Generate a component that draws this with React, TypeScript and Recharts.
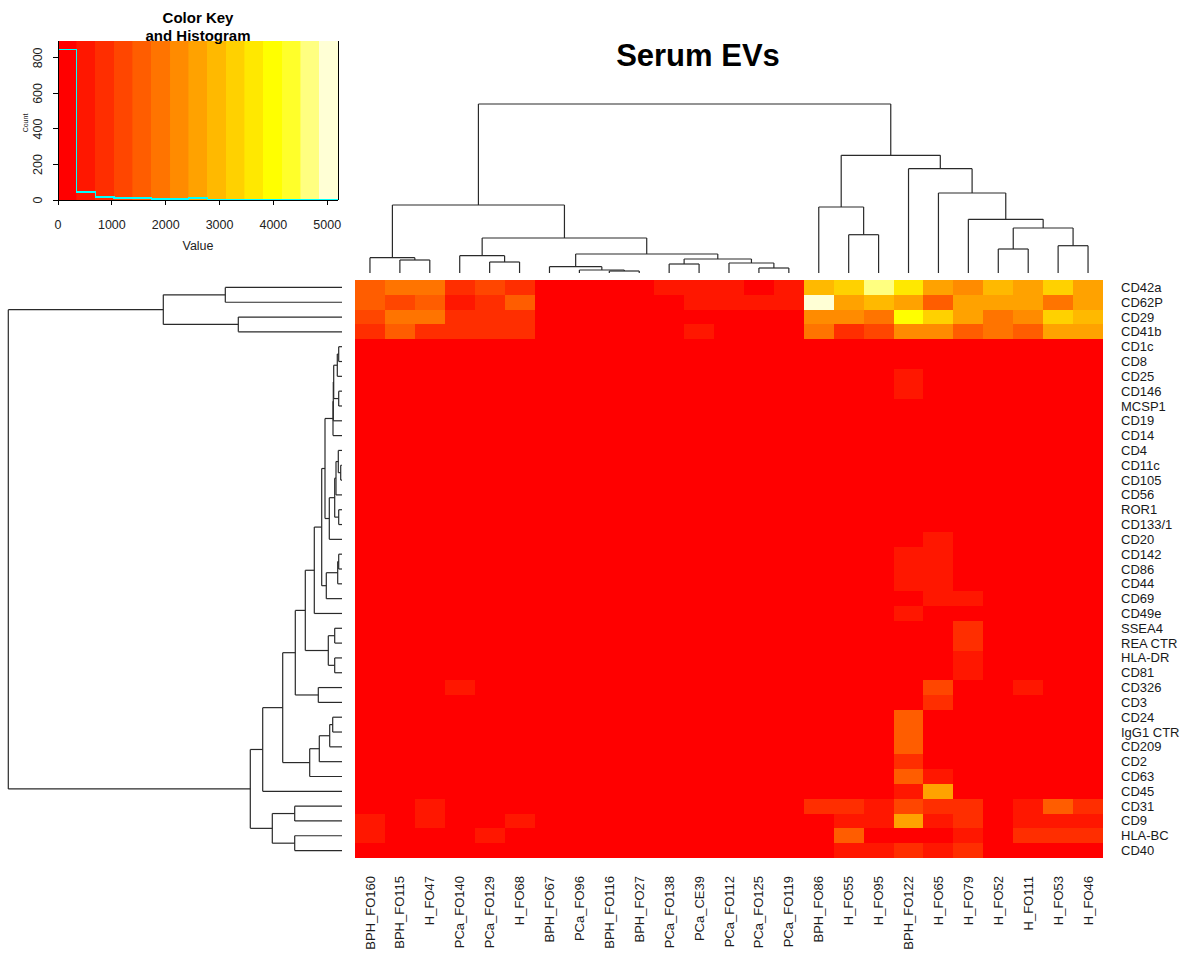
import React from 'react';
import {
  BarChart,
  Bar,
  Cell,
  XAxis,
  YAxis,
  ComposedChart,
  Line,
  ReferenceArea,
  ReferenceLine,
} from 'recharts';

const FONT = '"Liberation Sans", Arial, Helvetica, sans-serif';
const LINE = '#2a2a2a';

const columnLabels = [
  'BPH_FO160', 'BPH_FO115', 'H_FO47', 'PCa_FO140', 'PCa_FO129', 'H_FO68', 'BPH_FO67', 'PCa_FO96',
  'BPH_FO116', 'BPH_FO27', 'PCa_FO138', 'PCa_CE39', 'PCa_FO112', 'PCa_FO125', 'PCa_FO119', 'BPH_FO86',
  'H_FO55', 'H_FO95', 'BPH_FO122', 'H_FO65', 'H_FO79', 'H_FO52', 'H_FO111', 'H_FO53', 'H_FO46',
];

const rowLabels = [
  'CD42a', 'CD62P', 'CD29', 'CD41b', 'CD1c', 'CD8', 'CD25', 'CD146', 'MCSP1', 'CD19', 'CD14', 'CD4',
  'CD11c', 'CD105', 'CD56', 'ROR1', 'CD133/1', 'CD20', 'CD142', 'CD86', 'CD44', 'CD69', 'CD49e',
  'SSEA4', 'REA CTR', 'HLA-DR', 'CD81', 'CD326', 'CD3', 'CD24', 'IgG1 CTR', 'CD209', 'CD2', 'CD63',
  'CD45', 'CD31', 'CD9', 'HLA-BC', 'CD40',
];

// heat.colors(15)
const heatColors = [
  '#FF0000', '#FF1700', '#FF2E00', '#FF4600', '#FF5D00', '#FF7400', '#FF8B00', '#FFA200',
  '#FFB900', '#FFD100', '#FFE800', '#FFFF00', '#FFFF2A', '#FFFF80', '#FFFFD5',
];

const keyBreaks = [0, 347, 693, 1040, 1387, 1733, 2080, 2427, 2773, 3120, 3467, 3813, 4160, 4507, 4853, 5200];
const histCounts = [846, 46, 17, 12, 12, 5, 5, 12, 2, 3, 1, 1, 1, 1, 1];
const keyTicksX = [0, 1000, 2000, 3000, 4000, 5000];
const keyTicksY = [0, 200, 400, 600, 800];

// values per marker (row), one entry per sample (column)
const cellValues: number[][] = [
  /* CD42a */ [1560, 1910, 1900, 870, 1210, 880, 110, 100, 100, 100, 520, 510, 500, 130, 520, 2950, 3300, 4680, 3640, 2600, 2250, 2950, 2600, 3300, 2600],
  /* CD62P */ [1560, 1210, 1560, 520, 870, 1560, 120, 100, 100, 100, 120, 520, 520, 520, 520, 5030, 2600, 2950, 2600, 1560, 2600, 2600, 2600, 1910, 2600],
  /* CD29 */ [1210, 1910, 1910, 870, 870, 870, 100, 100, 100, 100, 100, 100, 100, 100, 100, 2250, 2250, 1910, 3990, 3300, 2600, 1910, 2250, 3300, 2950],
  /* CD41b */ [870, 1560, 870, 870, 870, 870, 100, 100, 100, 100, 100, 520, 100, 100, 100, 1910, 870, 1210, 2250, 2250, 1560, 1910, 1560, 2600, 2600],
  /* CD1c */ [100, 100, 100, 100, 100, 100, 100, 100, 100, 100, 100, 100, 100, 100, 100, 100, 100, 100, 100, 100, 100, 100, 100, 100, 100],
  /* CD8 */ [100, 100, 100, 100, 100, 100, 100, 100, 100, 100, 100, 100, 100, 100, 100, 100, 100, 100, 100, 100, 100, 100, 100, 100, 100],
  /* CD25 */ [100, 100, 100, 100, 100, 100, 100, 100, 100, 100, 100, 100, 100, 100, 100, 100, 100, 100, 520, 100, 100, 100, 100, 100, 100],
  /* CD146 */ [100, 100, 100, 100, 100, 100, 100, 100, 100, 100, 100, 100, 100, 100, 100, 100, 100, 100, 520, 100, 100, 100, 100, 100, 100],
  /* MCSP1 */ [100, 100, 100, 100, 100, 100, 100, 100, 100, 100, 100, 100, 100, 100, 100, 100, 100, 100, 100, 100, 100, 100, 100, 100, 100],
  /* CD19 */ [100, 100, 100, 100, 100, 100, 100, 100, 100, 100, 100, 100, 100, 100, 100, 100, 100, 100, 100, 100, 100, 100, 100, 100, 100],
  /* CD14 */ [100, 100, 100, 100, 100, 100, 100, 100, 100, 100, 100, 100, 100, 100, 100, 100, 100, 100, 100, 100, 100, 100, 100, 100, 100],
  /* CD4 */ [100, 100, 100, 100, 100, 100, 100, 100, 100, 100, 100, 100, 100, 100, 100, 100, 100, 100, 100, 100, 100, 100, 100, 100, 100],
  /* CD11c */ [100, 100, 100, 100, 100, 100, 100, 100, 100, 100, 100, 100, 100, 100, 100, 100, 100, 100, 100, 100, 100, 100, 100, 100, 100],
  /* CD105 */ [100, 100, 100, 100, 100, 100, 100, 100, 100, 100, 100, 100, 100, 100, 100, 100, 100, 100, 100, 100, 100, 100, 100, 100, 100],
  /* CD56 */ [100, 100, 100, 100, 100, 100, 100, 100, 100, 100, 100, 100, 100, 100, 100, 100, 100, 100, 100, 100, 100, 100, 100, 100, 100],
  /* ROR1 */ [100, 100, 100, 100, 100, 100, 100, 100, 100, 100, 100, 100, 100, 100, 100, 100, 100, 100, 100, 100, 100, 100, 100, 100, 100],
  /* CD133/1 */ [100, 100, 100, 100, 100, 100, 100, 100, 100, 100, 100, 100, 100, 100, 100, 100, 100, 100, 100, 100, 100, 100, 100, 100, 100],
  /* CD20 */ [100, 100, 100, 100, 100, 100, 100, 100, 100, 100, 100, 100, 100, 100, 100, 100, 100, 100, 100, 520, 100, 100, 100, 100, 100],
  /* CD142 */ [100, 100, 100, 100, 100, 100, 100, 100, 100, 100, 100, 100, 100, 100, 100, 100, 100, 100, 520, 520, 100, 100, 100, 100, 100],
  /* CD86 */ [100, 100, 100, 100, 100, 100, 100, 100, 100, 100, 100, 100, 100, 100, 100, 100, 100, 100, 520, 520, 100, 100, 100, 100, 100],
  /* CD44 */ [100, 100, 100, 100, 100, 100, 100, 100, 100, 100, 100, 100, 100, 100, 100, 100, 100, 100, 520, 520, 100, 100, 100, 100, 100],
  /* CD69 */ [100, 100, 100, 100, 100, 100, 100, 100, 100, 100, 100, 100, 100, 100, 100, 100, 100, 100, 100, 520, 520, 100, 100, 100, 100],
  /* CD49e */ [100, 100, 100, 100, 100, 100, 100, 100, 100, 100, 100, 100, 100, 100, 100, 100, 100, 100, 520, 100, 100, 100, 100, 100, 100],
  /* SSEA4 */ [100, 100, 100, 100, 100, 100, 100, 100, 100, 100, 100, 100, 100, 100, 100, 100, 100, 100, 100, 100, 870, 100, 100, 100, 100],
  /* REA CTR */ [100, 100, 100, 100, 100, 100, 100, 100, 100, 100, 100, 100, 100, 100, 100, 100, 100, 100, 100, 100, 870, 100, 100, 100, 100],
  /* HLA-DR */ [100, 100, 100, 100, 100, 100, 100, 100, 100, 100, 100, 100, 100, 100, 100, 100, 100, 100, 100, 100, 520, 100, 100, 100, 100],
  /* CD81 */ [100, 100, 100, 100, 100, 100, 100, 100, 100, 100, 100, 100, 100, 100, 100, 100, 100, 100, 100, 100, 520, 100, 100, 100, 100],
  /* CD326 */ [100, 100, 100, 520, 100, 100, 100, 100, 100, 100, 100, 100, 100, 100, 100, 100, 100, 100, 100, 1210, 100, 100, 520, 100, 100],
  /* CD3 */ [100, 100, 100, 100, 100, 100, 100, 100, 100, 100, 100, 100, 100, 100, 100, 100, 100, 100, 100, 870, 100, 100, 100, 100, 100],
  /* CD24 */ [100, 100, 100, 100, 100, 100, 100, 100, 100, 100, 100, 100, 100, 100, 100, 100, 100, 100, 1560, 100, 100, 100, 100, 100, 100],
  /* IgG1 CTR */ [100, 100, 100, 100, 100, 100, 100, 100, 100, 100, 100, 100, 100, 100, 100, 100, 100, 100, 1560, 100, 100, 100, 100, 100, 100],
  /* CD209 */ [100, 100, 100, 100, 100, 100, 100, 100, 100, 100, 100, 100, 100, 100, 100, 100, 100, 100, 1560, 100, 100, 100, 100, 100, 100],
  /* CD2 */ [100, 100, 100, 100, 100, 100, 100, 100, 100, 100, 100, 100, 100, 100, 100, 100, 100, 100, 870, 100, 100, 100, 100, 100, 100],
  /* CD63 */ [100, 100, 100, 100, 100, 100, 100, 100, 100, 100, 100, 100, 100, 100, 100, 100, 100, 100, 1560, 520, 100, 100, 100, 100, 100],
  /* CD45 */ [100, 100, 100, 100, 100, 100, 100, 100, 100, 100, 100, 100, 100, 100, 100, 100, 100, 100, 520, 2600, 100, 100, 100, 100, 100],
  /* CD31 */ [100, 100, 520, 100, 100, 100, 100, 100, 100, 100, 100, 100, 100, 100, 100, 870, 870, 520, 1210, 870, 870, 100, 520, 1560, 870],
  /* CD9 */ [520, 100, 520, 100, 100, 520, 100, 100, 100, 100, 100, 100, 100, 100, 100, 100, 520, 520, 2600, 520, 870, 100, 520, 520, 520],
  /* HLA-BC */ [520, 100, 100, 100, 520, 100, 100, 100, 100, 100, 100, 100, 100, 100, 100, 100, 1560, 100, 100, 100, 520, 100, 870, 870, 870],
  /* CD40 */ [100, 100, 100, 100, 100, 100, 100, 100, 100, 100, 100, 100, 100, 100, 100, 100, 520, 520, 870, 520, 870, 100, 100, 100, 100],
];

// hclust-style merge tables: negative = leaf (1-based, in display order), positive = earlier merge
const colMerges: [number, number, number][] = [
  [-2, -3, 13], [-1, 1, 15.3], [-5, -6, 11], [-4, 3, 17.3], [-9, -10, 2], [-8, 5, 3],
  [-7, 6, 6.3], [-11, -12, 9], [-14, -15, 5], [-13, 9, 10], [8, 10, 14], [7, 11, 19],
  [4, 12, 35], [2, 13, 68], [-17, -18, 38.3], [-16, 15, 66], [-22, -23, 24], [-24, -25, 27.3],
  [17, 18, 45], [-21, 19, 53.7], [-20, 20, 80], [-19, 21, 104.3], [16, 22, 117.7], [14, 23, 169],
];

const rowMerges: [number, number, number][] = [
  [-1, -2, 116.7], [-3, -4, 103.7], [1, 2, 178.7], [-5, -6, 3.3], [4, -7, 4.7], [-8, -9, 3.3],
  [5, 6, 8.3], [7, -10, 8.7], [8, -11, 9.0], [-13, -14, 1.3], [-12, 10, 3.7], [11, -15, 6],
  [-16, -17, 3.3], [12, 13, 7.3], [14, -18, 12.7], [9, 15, 17], [-19, -20, 3.3], [17, -21, 4.3],
  [18, -22, 15.7], [16, 19, 20.3], [20, -23, 27.7], [-24, -25, 7.3], [-26, -27, 7.3], [22, 23, 13.7],
  [21, 24, 36.7], [-28, -29, 23.7], [25, 26, 46.7], [-30, -31, 9.3], [28, -32, 12.3], [29, -33, 22.7],
  [30, -34, 32.3], [27, 31, 59.3], [32, -35, 79.3], [-36, -37, 47.3], [-38, -39, 47.3], [34, 35, 69.7],
  [33, 36, 91.7], [3, 37, 333.7],
];

type Seg = { p1: number; h1: number; p2: number; h2: number };

function dendroSegments(merges: [number, number, number][]): Seg[] {
  const pos: number[] = [];
  const hgt: number[] = [];
  const segs: Seg[] = [];
  const info = (k: number) => (k < 0 ? { p: -k - 1 + 0.5, h: 0 } : { p: pos[k - 1], h: hgt[k - 1] });
  merges.forEach(([a, b, h], idx) => {
    const A = info(a);
    const B = info(b);
    segs.push({ p1: A.p, h1: A.h, p2: A.p, h2: h });
    segs.push({ p1: B.p, h1: B.h, p2: B.p, h2: h });
    segs.push({ p1: A.p, h1: h, p2: B.p, h2: h });
    pos[idx] = (A.p + B.p) / 2;
    hgt[idx] = h;
  });
  return segs;
}

function colorFor(v: number): string {
  for (let i = 0; i < heatColors.length; i++) {
    if (v < keyBreaks[i + 1]) return heatColors[i];
  }
  return heatColors[heatColors.length - 1];
}

const nRows = rowLabels.length;
const nCols = columnLabels.length;

const heatTable = columnLabels.map((name) => {
  const o: Record<string, number | string> = { name };
  rowLabels.forEach((_, r) => {
    o[`r${r}`] = 1;
  });
  return o;
});

const rowTicks = rowLabels.map((_, i) => nRows - i - 0.5);
const histData = keyBreaks.map((b, i) => ({ v: b, count: histCounts[Math.min(i, histCounts.length - 1)] }));
const colLeafData = columnLabels.map((_, c) => ({ x: c + 0.5, y: 0 }));
const rowLeafData = rowLabels.map((_, r) => ({ x: 0, y: r + 0.5 }));

const colSegs = dendroSegments(colMerges);
const rowSegs = dendroSegments(rowMerges);

const ColTick = (props: any) => {
  const { x, y, payload } = props;
  return (
    <text
      x={x}
      y={y}
      transform={`rotate(-90 ${x} ${y})`}
      textAnchor="end"
      dy="0.35em"
      fontSize={13}
      fontFamily={FONT}
      fill="#1a1a1a"
    >
      {payload.value}
    </text>
  );
};

const RowTick = (props: any) => {
  const { x, y, payload } = props;
  const idx = Math.round(nRows - 0.5 - payload.value);
  return (
    <text x={x} y={y} textAnchor="start" dy="0.35em" fontSize={13} fontFamily={FONT} fill="#1a1a1a">
      {rowLabels[idx]}
    </text>
  );
};

const KeyYTick = (props: any) => {
  const { x, y, payload } = props;
  return (
    <text
      x={x}
      y={y}
      transform={`rotate(-90 ${x} ${y})`}
      textAnchor="middle"
      fontSize={12.5}
      fontFamily={FONT}
      fill="#222"
    >
      {payload.value}
    </text>
  );
};

const KeyXTick = (props: any) => {
  const { x, y, payload } = props;
  return (
    <text x={x} y={y} textAnchor="middle" dy="0.71em" fontSize={12.5} fontFamily={FONT} fill="#222">
      {payload.value}
    </text>
  );
};

export default function App() {
  return (
    <div
      style={{
        position: 'absolute',
        left: 0,
        top: 0,
        width: 1182,
        height: 956,
        background: '#fff',
        overflow: 'hidden',
        fontFamily: FONT,
      }}
    >
      {/* Color key and histogram */}
      <div style={{ position: 'absolute', left: 0, top: 0, shapeRendering: 'crispEdges' }}>
        <ComposedChart width={345} height={260} data={histData} margin={{ top: 41, right: 7, bottom: 0, left: 0 }}>
          <XAxis
            type="number"
            dataKey="v"
            domain={[0, 5200]}
            allowDataOverflow
            ticks={keyTicksX}
            interval={0}
            height={60}
            tickSize={5}
            tickMargin={15}
            stroke="#000"
            tick={KeyXTick}
          />
          <YAxis
            type="number"
            domain={[0, 895]}
            allowDataOverflow
            ticks={keyTicksY}
            interval={0}
            width={58}
            tickSize={5}
            tickMargin={11}
            stroke="#000"
            tick={KeyYTick}
          />
          {heatColors.map((c, i) => (
            <ReferenceArea
              key={`band${i}`}
              x1={keyBreaks[i]}
              x2={keyBreaks[i + 1]}
              y1={0}
              y2={895}
              fill={c}
              fillOpacity={1}
              stroke={c}
              strokeWidth={0.6}
            />
          ))}
          <ReferenceLine x={5200} stroke="#000" strokeWidth={1} />
          <Line
            type="stepAfter"
            dataKey="count"
            stroke="#00FFFF"
            strokeWidth={1.4}
            dot={false}
            activeDot={false}
            isAnimationActive={false}
          />
        </ComposedChart>
      </div>

      {/* Column dendrogram */}
      <div style={{ position: 'absolute', left: 355, top: 100 }}>
        <ComposedChart width={748} height={173} data={colLeafData} margin={{ top: 0, right: 0, bottom: 0, left: 0 }}>
          <XAxis type="number" dataKey="x" domain={[0, nCols]} allowDataOverflow hide />
          <YAxis type="number" domain={[0, 173]} allowDataOverflow hide />
          {colSegs.map((s, i) => (
            <ReferenceLine
              key={`cs${i}`}
              segment={[
                { x: s.p1, y: s.h1 },
                { x: s.p2, y: s.h2 },
              ]}
              stroke={LINE}
              strokeWidth={1.2}
              ifOverflow="visible"
            />
          ))}
        </ComposedChart>
      </div>

      {/* Row dendrogram */}
      <div style={{ position: 'absolute', left: 0, top: 280 }}>
        <ComposedChart width={342} height={578} data={rowLeafData} margin={{ top: 0, right: 0, bottom: 0, left: 0 }}>
          <XAxis type="number" dataKey="x" domain={[0, 342]} reversed allowDataOverflow hide />
          <YAxis type="number" dataKey="y" domain={[0, nRows]} reversed allowDataOverflow hide />
          {rowSegs.map((s, i) => (
            <ReferenceLine
              key={`rs${i}`}
              segment={[
                { x: s.h1, y: s.p1 },
                { x: s.h2, y: s.p2 },
              ]}
              stroke={LINE}
              strokeWidth={1.2}
              ifOverflow="visible"
            />
          ))}
        </ComposedChart>
      </div>

      {/* Heatmap */}
      <div style={{ position: 'absolute', left: 355, top: 280, shapeRendering: 'crispEdges' }}>
        <BarChart
          width={748 + 78}
          height={578 + 100}
          data={heatTable}
          barCategoryGap={0}
          barGap={0}
          margin={{ top: 0, right: 0, bottom: 0, left: 0 }}
        >
          <XAxis
            dataKey="name"
            type="category"
            interval={0}
            height={100}
            tickSize={0}
            tickMargin={18}
            axisLine={false}
            tickLine={false}
            tick={ColTick}
          />
          <YAxis
            orientation="right"
            type="number"
            domain={[0, nRows]}
            allowDataOverflow
            ticks={rowTicks}
            interval={0}
            width={78}
            tickSize={0}
            tickMargin={18}
            axisLine={false}
            tickLine={false}
            tick={RowTick}
          />
          {rowLabels
            .map((_, r) => nRows - 1 - r)
            .map((r) => (
              <Bar key={`r${r}`} dataKey={`r${r}`} stackId="s" isAnimationActive={false} stroke="none">
                {columnLabels.map((_, c) => (
                  <Cell key={`c${c}`} fill={colorFor(cellValues[r][c])} />
                ))}
              </Bar>
            ))}
        </BarChart>
      </div>

      {/* Titles and axis labels */}
      <svg
        width={1182}
        height={956}
        style={{ position: 'absolute', left: 0, top: 0, pointerEvents: 'none' }}
      >
        <text x={198} y={23} textAnchor="middle" fontSize={15} fontWeight="bold" fontFamily={FONT} fill="#000">
          Color Key
        </text>
        <text x={198} y={41} textAnchor="middle" fontSize={15} fontWeight="bold" fontFamily={FONT} fill="#000">
          and Histogram
        </text>
        <text x={198} y={250} textAnchor="middle" fontSize={12.5} fontFamily={FONT} fill="#222">
          Value
        </text>
        <text
          x={28}
          y={123}
          transform="rotate(-90 28 123)"
          textAnchor="middle"
          fontSize={7}
          fontFamily={FONT}
          fill="#222"
        >
          Count
        </text>
        <text x={698} y={66} textAnchor="middle" fontSize={31} fontWeight="bold" fontFamily={FONT} fill="#000">
          Serum EVs
        </text>
      </svg>
    </div>
  );
}
